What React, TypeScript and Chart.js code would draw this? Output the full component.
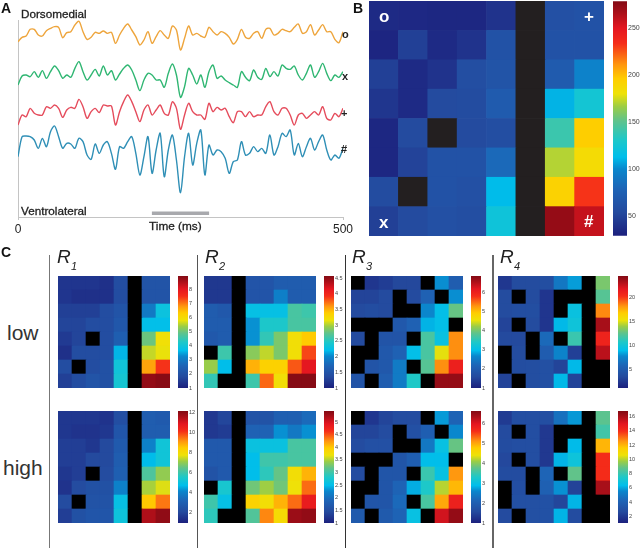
import React, { useEffect, useRef } from "react";
import { Chart, registerables } from "chart.js";

Chart.register(...registerables);

const FONT = '"Liberation Sans", Arial, sans-serif';

const timeMs = Array.from({ length: 81 }, (_, i) => i * 6.25);
const stimulusMs = [206, 294];
const stimulusLevel = [640, 640];
const traceO = [125,112,108,88,88,105,108,92,85,80,82,113,98,95,75,64,95,118,112,97,100,93,100,97,130,105,85,72,90,110,135,120,95,130,110,92,105,115,78,90,150,115,78,105,100,108,112,82,95,105,95,100,112,132,118,88,112,115,100,95,115,88,85,105,100,88,92,95,82,72,100,95,74,105,90,74,95,95,118,128,95];
const traceX = [255,228,225,230,215,232,212,235,215,198,212,235,225,232,205,185,215,240,225,208,228,198,225,212,240,222,205,195,210,240,272,240,220,225,240,240,262,220,192,225,292,260,205,225,252,225,262,215,195,235,228,240,248,255,262,215,232,242,210,232,238,205,230,215,228,195,205,208,198,225,240,220,195,232,215,190,220,242,225,232,215];
const tracePlus = [375,345,350,325,340,345,345,320,325,315,325,352,330,322,325,298,320,355,335,325,338,315,318,318,375,335,305,285,305,335,365,330,315,345,330,315,340,345,305,325,388,345,310,335,345,345,358,310,335,322,330,325,350,368,335,335,350,335,350,345,345,320,305,335,345,325,325,345,375,345,340,355,345,335,345,320,355,360,340,350,325];
const traceHash = [470,410,408,410,420,445,415,440,395,378,410,445,430,432,445,415,425,465,478,432,460,435,425,460,508,440,445,425,410,460,525,470,410,520,450,400,530,450,405,480,578,470,400,495,430,390,525,435,465,450,455,475,520,485,480,425,465,460,440,455,445,460,405,465,440,400,410,390,465,430,470,440,415,450,425,405,450,480,465,475,445];

// Panel B / C: activity per electrode (top row first), null is a silent (black) site
const panelB = [
  [35,34,33,33,40,null,60,62],
  [32,48,35,40,62,null,62,62],
  [48,35,40,58,63,null,70,97],
  [42,35,55,56,70,null,110,125],
  [33,55,null,55,58,null,140,195],
  [33,50,62,62,82,null,170,185],
  [56,null,62,60,112,null,192,232],
  [48,55,60,58,122,null,272,258],
];
const r1Low = [
  [1.4,1.4,1.4,1.3,1.9,null,2.1,2.1],
  [1.4,1.3,1.3,1.3,1.9,null,2.1,2.1],
  [1.6,1.6,1.6,1.9,2.1,null,3.0,3.9],
  [1.7,1.7,1.9,1.9,2.2,null,3.7,3.7],
  [1.5,1.7,null,1.9,2.4,null,5.0,5.9],
  [1.3,1.9,1.9,1.9,3.6,null,5.6,5.8],
  [1.9,null,1.9,2.0,4.0,null,6.7,7.5],
  [1.6,1.9,2.1,2.0,4.1,null,8.8,8.9],
];
const r2Low = [
  [1.2,1.2,null,1.5,1.5,1.6,1.6,1.6],
  [1.2,1.2,null,1.5,1.5,1.95,1.6,1.6],
  [1.6,1.55,null,2.25,2.25,2.25,2.65,2.6],
  [1.6,1.6,null,2.05,2.45,2.45,2.65,2.65],
  [1.55,1.6,null,2.05,2.55,2.85,3.2,3.4],
  [null,2.6,null,2.9,3.05,2.85,3.2,3.85],
  [2.95,2.2,null,3.5,3.35,3.35,3.8,4.15],
  [2.55,null,null,2.6,3.75,3.2,4.55,4.55],
];
const r3Low = [
  [null,1.3,1.4,1.55,1.55,null,2.7,2.0],
  [1.5,1.5,1.6,null,1.6,2.1,null,2.7],
  [1.6,1.65,1.6,null,null,2.65,3.0,3.9],
  [null,null,null,1.9,2.1,2.9,3.0,null],
  [1.6,null,1.8,1.8,null,3.7,3.1,5.3],
  [null,null,1.9,2.1,3.0,3.7,4.5,5.3],
  [null,1.8,1.9,2.5,null,3.8,5.3,6.0],
  [1.8,null,2.0,2.5,3.4,null,6.7,6.7],
];
const r4Low = [
  [2.3,3.5,3.5,3.7,6.8,8.2,null,13.2],
  [3.5,null,3.5,2.2,null,null,null,12.3],
  [3.5,3.7,3.7,2.2,null,9.5,null,18.5],
  [3.0,null,3.5,2.2,8.8,9.8,null,23.5],
  [3.4,3.4,null,6,null,11.5,null,21],
  [null,3.5,null,5,7.5,2.8,null,23],
  [null,3.6,3.7,3.9,3,8.8,null,null],
  [3,null,3.7,3.9,8.8,3,null,null],
];
const r1High = [
  [1.6,1.6,1.6,1.5,2.3,null,2.9,2.8],
  [1.6,1.5,1.5,1.6,2.6,null,2.9,2.9],
  [1.8,1.8,1.6,2.1,2.8,null,4.0,5.2],
  [1.8,1.8,2.1,2.1,2.9,null,4.7,5.2],
  [1.6,1.8,null,2.2,3.0,null,6.2,7.0],
  [1.5,2.2,2.4,2.4,4.0,null,7.2,7.6],
  [2.2,null,2.5,2.5,4.9,null,8.5,9.4],
  [1.8,2.4,2.6,2.6,5.1,null,11.5,11.9],
];
const r2High = [
  [1.25,1.4,null,1.6,1.6,1.8,1.8,1.95],
  [1.25,1.3,null,1.85,1.85,2.3,2.1,2.3],
  [1.7,1.7,null,2.6,2.6,2.6,3.05,3.05],
  [1.7,1.7,null,2.5,3.0,3.0,3.05,3.05],
  [1.6,1.7,null,2.5,2.9,3.2,3.75,4.1],
  [null,2.75,null,3.25,3.45,3.25,3.7,4.4],
  [3.0,2.55,null,3.9,3.75,4.1,4.4,4.85],
  [2.9,null,null,3.1,4.3,3.8,5.3,5.35],
];
const r3High = [
  [null,1.3,1.5,1.6,1.6,null,2.7,2.1],
  [1.5,1.5,1.6,null,1.7,2.0,null,2.6],
  [1.6,1.7,1.7,null,null,2.4,3.0,3.8],
  [null,null,null,1.8,2.0,2.9,2.9,null],
  [1.6,null,1.8,1.8,null,3.5,3.0,5.1],
  [null,null,1.8,2.1,2.8,3.3,4.2,4.9],
  [null,1.8,1.8,2.2,null,3.6,5.0,5.8],
  [1.9,null,1.9,2.1,3.0,null,6.1,6.5],
];
const r4High = [
  [2.1,2.9,2.9,2.9,4.7,5.8,null,8.7],
  [2.7,null,2.9,2,null,null,null,8.2],
  [2.8,2.9,2.9,2,null,6.3,null,12],
  [2.6,null,2.9,2,6.2,6.9,null,14],
  [2.8,2.8,null,4.2,null,8.8,null,14],
  [null,2.9,null,4,5.7,2.4,null,16],
  [null,3.0,3,3.1,2.5,6.2,null,null],
  [2.7,null,3,3.1,6.2,2.8,null,null],
];

const ticksB = [50,100,150,200,250];
const ticksR1Low = [1,2,3,4,5,6,7,8];
const ticksR2Low = [1,1.5,2,2.5,3,3.5,4,4.5];
const ticksR3Low = [1,2,3,4,5,6];
const ticksR4Low = [5,10,15,20];
const ticksR1High = [2,4,6,8,10,12];
const ticksR2High = [1,1.5,2,2.5,3,3.5,4,4.5,5];
const ticksR3High = [1,2,3,4,5,6];
const ticksR4High = [2,4,6,8,10,12,14,16];

const colormap: [number, number[]][] = [
  [0, [28,32,125]],
  [0.1, [36,74,158]],
  [0.2, [30,100,182]],
  [0.285, [10,135,205]],
  [0.335, [0,190,235]],
  [0.41, [30,200,200]],
  [0.49, [95,195,140]],
  [0.55, [155,205,70]],
  [0.605, [238,226,8]],
  [0.67, [255,205,0]],
  [0.73, [255,150,15]],
  [0.82, [245,45,25]],
  [0.885, [228,22,32]],
  [0.95, [170,15,25]],
  [1, [130,10,20]],
];

function colorAt(t: number) {
  const c = Math.max(0, Math.min(1, t));
  for (let i = 1; i < colormap.length; i++) {
    const [t1, a] = colormap[i - 1];
    const [t2, b] = colormap[i];
    if (c <= t2) {
      const f = (c - t1) / (t2 - t1);
      return `rgb(${a.map((v, k) => Math.round(v + (b[k] - v) * f)).join(",")})`;
    }
  }
  return "rgb(130,10,20)";
}

function useChart(make: (c: HTMLCanvasElement) => Chart) {
  const ref = useRef<HTMLCanvasElement | null>(null);
  useEffect(() => {
    const chart = make(ref.current!);
    return () => chart.destroy();
  }, []);
  return ref;
}

function Traces() {
  const ref = useChart((c) => {
    const line = (data: number[], color: string) => ({
      type: "line" as const,
      data: data.map((y, i) => ({ x: timeMs[i], y })),
      borderColor: color,
      borderWidth: 1.4,
      pointRadius: 0,
      tension: 0.3,
    });
    return new Chart(c, {
      type: "line",
      data: {
        datasets: [
          line(traceO, "#eea53c"),
          line(traceX, "#2fb672"),
          line(tracePlus, "#e54c5c"),
          line(traceHash, "#2f8fb6"),
          {
            type: "line",
            data: stimulusMs.map((x, i) => ({ x, y: stimulusLevel[i] })),
            borderColor: "#a8a9ad",
            borderWidth: 3.5,
            pointRadius: 0,
          },
        ] as any,
      },
      options: {
        animation: false,
        responsive: false,
        events: [],
        layout: { padding: { left: 18, right: 17, top: 20, bottom: 0 } },
        plugins: { legend: { display: false }, tooltip: { enabled: false } },
        scales: {
          x: {
            type: "linear",
            min: 0,
            max: 500,
            afterBuildTicks: (s: any) => { s.ticks = [{ value: 0 }, { value: 500 }]; },
            afterFit: (s: any) => { s.height = 23; },
            ticks: { maxRotation: 0, color: "#222", padding: 2, font: { family: FONT, size: 12 } },
            grid: { drawOnChartArea: false, drawTicks: true, tickLength: 3, color: "#c4c4c4" },
            border: { color: "#c4c4c4" },
          },
          y: {
            type: "linear",
            reverse: true,
            min: 60,
            max: 651,
            afterFit: (s: any) => { s.width = 0; },
            ticks: { display: false },
            grid: { display: false },
            border: { color: "#c4c4c4" },
          },
        },
      } as any,
    });
  });
  return <canvas ref={ref} width={360} height={240} style={{ position: "absolute", left: 0, top: 0 }} />;
}

function Heat({ x, y, w, h, cells, lo, hi, black }: any) {
  const ref = useChart((c) => {
    const cols = ["1","2","3","4","5","6","7","8"];
    const rows = [...cells].reverse();
    return new Chart(c, {
      type: "bar",
      data: {
        labels: cols,
        datasets: rows.map((row: (number | null)[]) => ({
          data: row.map(() => 1),
          backgroundColor: row.map((v) => (v === null ? black : colorAt((v - lo) / (hi - lo)))),
          borderWidth: 0,
          barPercentage: 1,
          categoryPercentage: 1,
        })),
      },
      options: {
        animation: false,
        responsive: false,
        events: [],
        plugins: { legend: { display: false }, tooltip: { enabled: false } },
        scales: {
          x: { stacked: true, display: false },
          y: { stacked: true, display: false, min: 0, max: 8 },
        },
      },
    });
  });
  return <canvas ref={ref} width={w} height={h} style={{ position: "absolute", left: x, top: y }} />;
}

const BAR_PAD = 5;

function Bar({ x, y, w, h, lo, hi, ticks, fs, axisW }: any) {
  const ref = useChart((c) => {
    return new Chart(c, {
      type: "bar",
      data: {
        labels: ["scale"],
        datasets: [
          {
            data: [[lo, hi]],
            barPercentage: 1,
            categoryPercentage: 1,
            borderWidth: 0,
            backgroundColor: (ctx: any) => {
              const a = ctx.chart.chartArea;
              if (!a) return "#000";
              const g = ctx.chart.ctx.createLinearGradient(0, a.bottom, 0, a.top);
              colormap.forEach(([t, col]) => g.addColorStop(t, `rgb(${col.join(",")})`));
              return g;
            },
          },
        ],
      },
      options: {
        animation: false,
        responsive: false,
        events: [],
        layout: { padding: { top: BAR_PAD, bottom: BAR_PAD } },
        plugins: { legend: { display: false }, tooltip: { enabled: false } },
        scales: {
          x: { display: false },
          y: {
            position: "right",
            min: lo,
            max: hi,
            afterBuildTicks: (s: any) => { s.ticks = ticks.map((value: number) => ({ value })); },
            afterFit: (s: any) => { s.width = axisW; },
            ticks: { color: "#444", padding: 1, callback: (v: any) => String(v), font: { family: FONT, size: fs } },
            grid: { display: false, drawTicks: false },
            border: { display: false },
          },
        },
      } as any,
    });
  });
  return <canvas ref={ref} width={w + axisW} height={h + BAR_PAD * 2} style={{ position: "absolute", left: x, top: y - BAR_PAD }} />;
}

function Label({ x, y, size, children, color = "#222", bold, italic, stroke }: any) {
  return (
    <span
      style={{
        position: "absolute",
        left: x,
        top: y,
        fontFamily: FONT,
        fontSize: size,
        lineHeight: 1,
        color,
        fontWeight: bold ? 700 : 400,
        fontStyle: italic ? "italic" : "normal",
        whiteSpace: "nowrap",
        WebkitTextStroke: stroke ? `${stroke}px ${color}` : undefined,
      }}
    >
      {children}
    </span>
  );
}

function Rule({ x, color }: any) {
  return <div style={{ position: "absolute", left: x, top: 255, width: 1.5, height: 293, background: color }} />;
}

const HM = 112;
const rowsC = [
  { top: 276, xs: [r1Low, r2Low, r3Low, r4Low], tk: [ticksR1Low, ticksR2Low, ticksR3Low, ticksR4Low], rng: [[1,8.97],[1,4.57],[1,6.84],[1,24.6]] },
  { top: 411, xs: [r1High, r2High, r3High, r4High], tk: [ticksR1High, ticksR2High, ticksR3High, ticksR4High], rng: [[1,12.1],[1,5.44],[1,6.63],[1.1,16.75]] },
];
const colsC = [
  { hx: 58, bx: 178 },
  { hx: 204, bx: 324 },
  { hx: 351, bx: 471 },
  { hx: 498, bx: 618 },
];
const titlesC = [
  { x: 57, n: "1" },
  { x: 205, n: "2" },
  { x: 352, n: "3" },
  { x: 500, n: "4" },
];

export default function App() {
  return (
    <div style={{ position: "absolute", left: 0, top: 0, width: 640, height: 549, background: "#fff", overflow: "hidden", filter: "blur(0.35px)" }}>
      <Traces />
      <Label x={21} y={8} size={11.7} stroke={0.3}>Dorsomedial</Label>
      <Label x={21} y={205} size={11.7} stroke={0.3}>Ventrolateral</Label>
      <Label x={149} y={221} size={11.8} stroke={0.3}>Time (ms)</Label>
      <Label x={342} y={29} size={11} bold>o</Label>
      <Label x={342} y={71} size={11} bold>x</Label>
      <Label x={341} y={108} size={11} bold>+</Label>
      <Label x={341} y={144} size={11} bold>#</Label>

      <Heat x={369} y={1} w={235} h={235} cells={panelB} lo={29} hi={278} black="#231f20" />
      <Bar x={613} y={1} w={14} h={235} lo={29} hi={278} ticks={ticksB} fs={7} axisW={13} />
      <Label x={379} y={8} size={17} color="#fff" bold>o</Label>
      <Label x={584} y={8} size={17} color="#fff" bold>+</Label>
      <Label x={379} y={214} size={17} color="#fff" bold>x</Label>
      <Label x={584} y={213} size={17} color="#fff" bold>#</Label>

      {rowsC.map((row) =>
        colsC.map((col, i) => (
          <React.Fragment key={`${row.top}-${i}`}>
            <Heat x={col.hx} y={row.top} w={HM} h={HM} cells={row.xs[i]} lo={row.rng[i][0]} hi={row.rng[i][1]} black="#000" />
            <Bar x={col.bx} y={row.top} w={10} h={HM} lo={row.rng[i][0]} hi={row.rng[i][1]} ticks={row.tk[i]} fs={5.5} axisW={10} />
          </React.Fragment>
        ))
      )}

      <Rule x={48.5} color="#777" />
      <Rule x={196.5} color="#555" />
      <Rule x={344.5} color="#333" />
      <Rule x={492} color="#666" />

      {titlesC.map((t) => (
        <React.Fragment key={t.n}>
          <Label x={t.x} y={247} size={19} italic color="#222">R</Label>
          <Label x={t.x + 14} y={261} size={11} italic color="#222">{t.n}</Label>
        </React.Fragment>
      ))}
      <Label x={7} y={322} size={21} color="#333">low</Label>
      <Label x={3} y={457} size={21} color="#333">high</Label>

      <Label x={1} y={1} size={14} color="#111" bold>A</Label>
      <Label x={353} y={1} size={14} color="#111" bold>B</Label>
      <Label x={1} y={245} size={14} color="#111" bold>C</Label>
    </div>
  );
}
